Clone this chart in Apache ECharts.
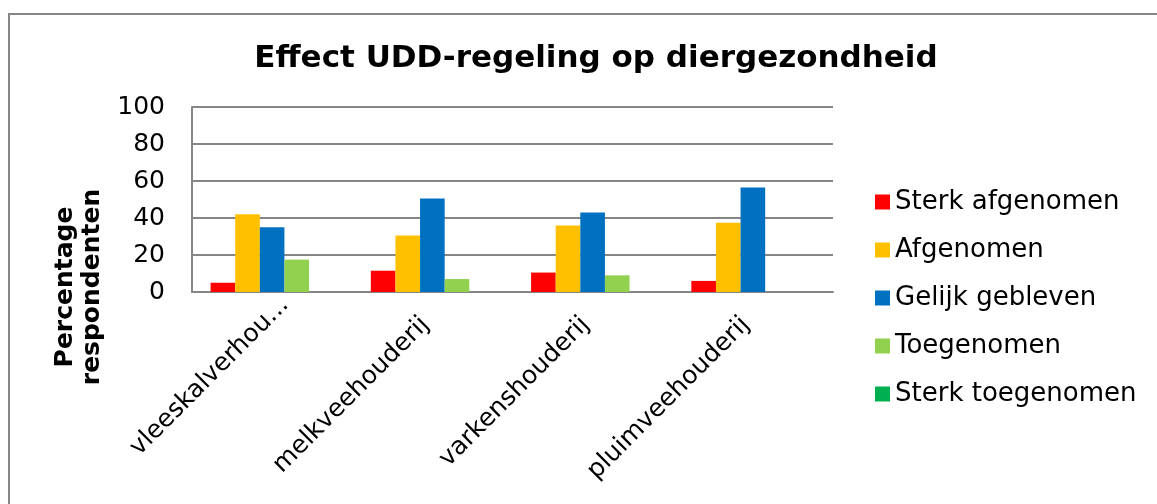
<!DOCTYPE html>
<html>
<head>
<meta charset="utf-8">
<style>
  html, body { margin: 0; padding: 0; background: #fff; }
  #chart { width: 1157px; height: 504px; }
</style>
<script src="https://cdn.jsdelivr.net/npm/echarts@6/dist/echarts.min.js"></script>
</head>
<body>
<div id="chart"></div>
<script>
// Sectors surveyed
const categories = ['vleeskalverhou...', 'melkveehouderij', 'varkenshouderij', 'pluimveehouderij'];

// Share of respondents (%) per answer
const sterkAfgenomen   = [5, 11.5, 10.5, 6];
const afgenomen        = [42, 30.5, 36, 37.5];
const gelijkGebleven   = [35, 50.5, 43, 56.5];
const toegenomen       = [17.5, 7, 9, 0];
const sterkToegenomen  = [0, 0, 0, 0];

const seriesNames = ['Sterk afgenomen', 'Afgenomen', 'Gelijk gebleven', 'Toegenomen', 'Sterk toegenomen'];
const seriesData  = [sterkAfgenomen, afgenomen, gelijkGebleven, toegenomen, sterkToegenomen];
const seriesColors = ['#FF0000', '#FFC000', '#0070C0', '#92D050', '#00B050'];

const yTicks = [0, 20, 40, 60, 80, 100];

const FONT = 'DejaVu Sans, Verdana, sans-serif';
const GRID_GRAY = '#868686';

// the clipped first label sits a little further along its slant
const categoryData = categories.map((c, i) =>
  i === 0 ? { value: c, textStyle: { padding: [0, -18, 0, 0] } } : c
);

const chart = echarts.init(document.getElementById('chart'), null, { renderer: 'canvas' });

chart.setOption({
  animation: false,
  backgroundColor: '#ffffff',
  textStyle: { fontFamily: FONT, color: '#000' },
  graphic: [
    {
      // chart frame (top and left edges fall inside the page)
      type: 'rect',
      shape: { x: 9, y: 14, width: 1300, height: 700 },
      style: { fill: 'none', stroke: GRID_GRAY, lineWidth: 2 },
      z: -1
    },
    {
      // y-axis title, two lines, rotated
      type: 'text',
      x: 79,
      y: 287,
      rotation: Math.PI / 2,
      style: {
        text: 'Percentage\nrespondenten',
        fontFamily: FONT,
        fontSize: 25,
        fontWeight: 'bold',
        fill: '#000',
        lineHeight: 27,
        align: 'center',
        verticalAlign: 'middle'
      }
    }
  ],
  title: {
    text: 'Effect UDD-regeling op diergezondheid',
    left: 591,
    top: 38,
    textAlign: 'center',
    textStyle: { fontFamily: FONT, fontSize: 31, fontWeight: 'bold', color: '#000' }
  },
  legend: {
    orient: 'vertical',
    left: 870,
    top: 182,
    itemWidth: 15,
    itemHeight: 15,
    itemGap: 18,
    icon: 'rect',
    data: seriesNames,
    textStyle: { fontFamily: FONT, fontSize: 26, color: '#000', lineHeight: 30, padding: [0, 0, 0, 0] }
  },
  grid: {
    left: 192,
    right: 324,
    top: 107,
    bottom: 212,
    containLabel: false
  },
  xAxis: {
    type: 'category',
    data: categoryData,
    axisLine: { show: true, lineStyle: { color: GRID_GRAY, width: 2 } },
    axisTick: { show: false },
    axisLabel: {
      rotate: 45,
      interval: 0,
      margin: 22,
      padding: [0, 10, 0, 0],
      fontFamily: FONT,
      fontSize: 25,
      color: '#000'
    }
  },
  yAxis: {
    type: 'value',
    min: yTicks[0],
    max: yTicks[yTicks.length - 1],
    interval: 20,
    axisLine: { show: true, lineStyle: { color: GRID_GRAY, width: 2 } },
    axisTick: { show: false },
    axisLabel: { margin: 27, fontFamily: FONT, fontSize: 25, color: '#000' },
    splitLine: { show: true, lineStyle: { color: GRID_GRAY, width: 2 } }
  },
  series: seriesNames.map((name, i) => ({
    name: name,
    type: 'bar',
    data: seriesData[i],
    barGap: '0%',
    barCategoryGap: '23.2%',
    itemStyle: { color: seriesColors[i] }
  }))
});
</script>
</body>
</html>
